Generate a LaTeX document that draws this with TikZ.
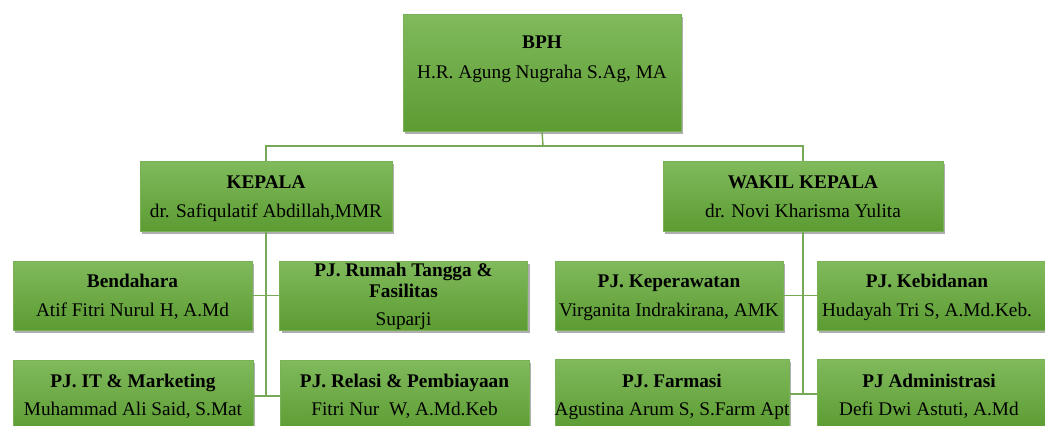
\documentclass[tikz,border=0pt]{standalone}
\usepackage{fontspec}
\setmainfont{Liberation Serif}
\usetikzlibrary{shadows}
\definecolor{boxtop}{RGB}{128,186,92}
\definecolor{boxbot}{RGB}{92,156,50}
\definecolor{boxedge}{RGB}{120,178,86}
\definecolor{connc}{RGB}{118,168,86}
\begin{document}
\begin{tikzpicture}[x=1pt,y=-1pt,
  orgbox/.style={rectangle, inner sep=0pt, top color=boxtop, bottom color=boxbot, draw=boxedge, line width=0.6pt,
     drop shadow={shadow xshift=2pt, shadow yshift=-3pt, opacity=0.45, fill=black!70}},
  conn/.style={draw=connc, line width=1.5pt},
  ttl/.style={anchor=base, inner sep=0pt, font=\fontsize{19.3}{21}\selectfont\bfseries, text=black},
  nm/.style={anchor=base, inner sep=0pt, font=\fontsize{19.3}{21}\selectfont, text=black}]
\useasboundingbox (0,0) rectangle (1045,426);
% boxes
\node[orgbox, minimum width=278pt, minimum height=117pt] (bphbox) at (542,72.5) {};
\node[orgbox, minimum width=252pt, minimum height=70pt] (kepala) at (266,196) {};
\node[orgbox, minimum width=280pt, minimum height=70pt] (wakil) at (803,196) {};
\node[orgbox, minimum width=239pt, minimum height=69pt] (bend) at (132.5,295.5) {};
\node[orgbox, minimum width=248pt, minimum height=69pt] (rumah) at (403.5,295.5) {};
\node[orgbox, minimum width=240pt, minimum height=72pt] (it) at (133,396) {};
\node[orgbox, minimum width=249pt, minimum height=72pt] (relasi) at (404.5,396) {};
\node[orgbox, minimum width=228pt, minimum height=69pt] (kep) at (669,295.5) {};
\node[orgbox, minimum width=243pt, minimum height=69pt] (keb) at (938.5,295.5) {};
\node[orgbox, minimum width=234pt, minimum height=70pt] (farm) at (672,394) {};
\node[orgbox, minimum width=243pt, minimum height=70pt] (adm) at (938.5,394) {};
% connectors
\coordinate (top) at (543,146);
\draw[conn] (bphbox.south) -- (top);
\draw[conn] (kepala.north) -- (kepala.north |- top) -- (wakil.north |- top) -- (wakil.north);
\draw[conn] (kepala.south) -- (kepala.south |- it.east);
\draw[conn] (bend.east) -- (rumah.west);
\draw[conn] (it.east) -- (relasi.west);
\draw[conn] (wakil.south) -- (wakil.south |- farm.east);
\draw[conn] (kep.east) -- (keb.west);
\draw[conn] (farm.east) -- (adm.west);
% texts
\node[ttl] (t1) at (542,48) {BPH};
\node[nm] (n1) at (542,78) {H.R. Agung Nugraha S.Ag, MA};
\node[ttl] (t2) at (266,188) {KEPALA};
\node[nm] (n2) at (266,217) {dr. Safiqulatif Abdillah,MMR};
\node[ttl] (t3) at (803,188) {WAKIL KEPALA};
\node[nm] (n3) at (803,217) {dr. Novi Kharisma Yulita};
\node[ttl] (t4) at (132.5,287) {Bendahara};
\node[nm] (n4) at (132.5,316) {Atif Fitri Nurul H, A.Md};
\node[ttl] (t5a) at (403.5,276) {PJ. Rumah Tangga \&};
\node[ttl] (t5b) at (403.5,297) {Fasilitas};
\node[nm] (n5) at (403.5,325) {Suparji};
\node[ttl] (t6) at (133,387) {PJ. IT \& Marketing};
\node[nm] (n6) at (133,415) {Muhammad Ali Said, S.Mat};
\node[ttl] (t7) at (404.5,387) {PJ. Relasi \& Pembiayaan};
\node[nm] (n7) at (404.5,415) {Fitri Nur\ \ W, A.Md.Keb};
\node[ttl] (t8) at (669,287) {PJ. Keperawatan};
\node[nm] (n8) at (669,316) {Virganita Indrakirana, AMK};
\node[ttl] (t9) at (927,287) {PJ. Kebidanan};
\node[nm] (n9) at (927,316) {Hudayah Tri S, A.Md.Keb.};
\node[ttl] (t10) at (672,387) {PJ. Farmasi};
\node[nm] (n10) at (672,415) {Agustina Arum S, S.Farm Apt};
\node[ttl] (t11) at (929,387) {PJ Administrasi};
\node[nm] (n11) at (929,415) {Defi Dwi Astuti, A.Md};
\end{tikzpicture}
\end{document}
